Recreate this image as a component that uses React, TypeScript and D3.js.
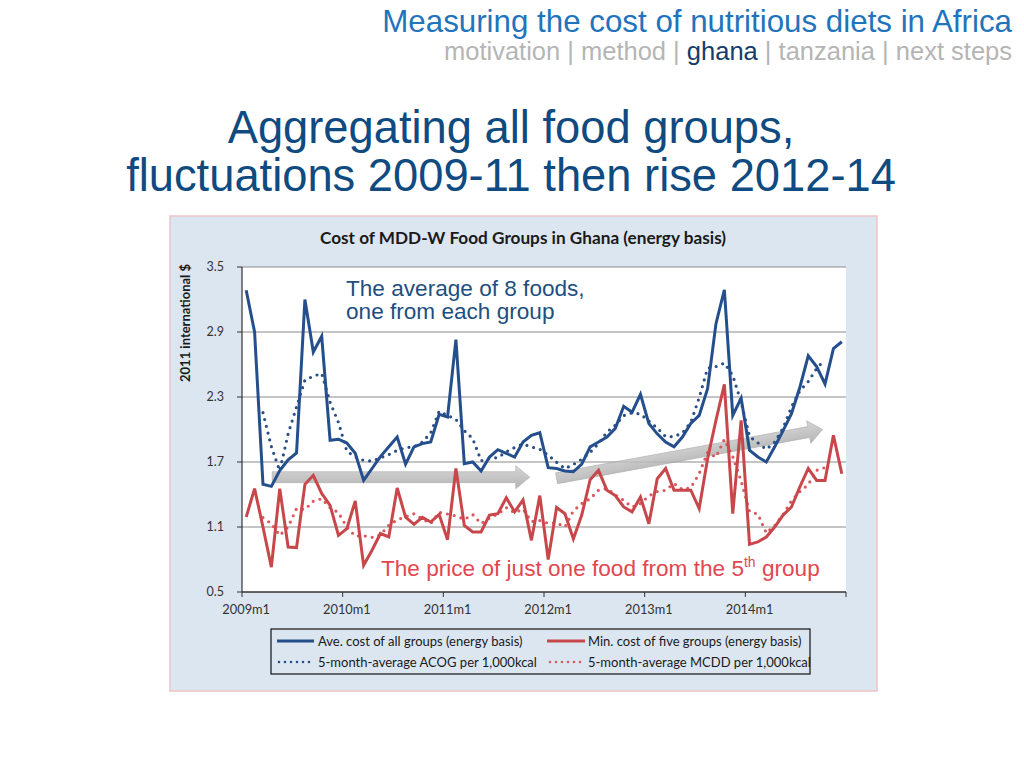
import React from "react";
import * as d3 from "d3";

// ---------- data ----------
const years = [2009, 2010, 2011, 2012, 2013, 2014];
const categories: string[] = years.flatMap((y) => d3.range(1, 13).map((m) => `${y}m${m}`));
const xTickLabels = ["2009m1", "2010m1", "2011m1", "2012m1", "2013m1", "2014m1"];
const yTicks = [0.5, 1.1, 1.7, 2.3, 2.9, 3.5];

// Ave. cost of all groups (energy basis)
const aveCost = [
  3.285, 2.9, 1.494, 1.475, 1.62, 1.72, 1.783, 3.2, 2.715, 2.86, 1.9, 1.91,
  1.875, 1.78, 1.53, 1.64, 1.75, 1.84, 1.93, 1.68, 1.84, 1.87, 1.885, 2.14,
  2.115, 2.83, 1.685, 1.7, 1.617, 1.746, 1.814, 1.78, 1.746, 1.885, 1.946, 1.97,
  1.648, 1.64, 1.617, 1.61, 1.68, 1.84, 1.885, 1.93, 2.01, 2.214, 2.16, 2.325,
  2.055, 1.96, 1.885, 1.84, 1.93, 2.055, 2.13, 2.377, 2.977, 3.29, 2.13, 2.29,
  1.81, 1.746, 1.7, 1.84, 1.99, 2.146, 2.39, 2.68, 2.58, 2.42, 2.746, 2.81,
];
// Min. cost of five groups (energy basis)
const minCost = [
  1.192, 1.454, 1.1, 0.73, 1.454, 0.915, 0.91, 1.494, 1.577, 1.41, 1.3, 1.023,
  1.085, 1.34, 0.746, 0.885, 1.04, 1.008, 1.46, 1.19, 1.125, 1.19, 1.146, 1.217,
  0.983, 1.64, 1.115, 1.055, 1.055, 1.21, 1.223, 1.37, 1.24, 1.35, 0.977, 1.39,
  0.8, 1.28, 1.223, 0.99, 1.21, 1.537, 1.623, 1.44, 1.39, 1.285, 1.24, 1.377,
  1.13, 1.546, 1.64, 1.44, 1.44, 1.44, 1.27, 1.73, 2.085, 2.417, 1.223, 2.085,
  0.94, 0.962, 1.008, 1.1, 1.21, 1.285, 1.47, 1.64, 1.53, 1.53, 1.946, 1.592,
];
// 5-month-average ACOG per 1,000kcal
const acogAvg: (number | null)[] = [
  null, null, 2.155, 1.842, 1.618, 1.96, 2.208, 2.456, 2.492, 2.517, 2.252, 2.065,
  1.799, 1.747, 1.715, 1.708, 1.738, 1.768, 1.808, 1.832, 1.841, 1.883, 1.97, 2.168,
  2.131, 2.094, 1.989, 1.916, 1.712, 1.731, 1.741, 1.794, 1.834, 1.865, 1.839, 1.818,
  1.764, 1.697, 1.639, 1.677, 1.726, 1.789, 1.869, 1.976, 2.04, 2.128, 2.153, 2.143,
  2.077, 2.013, 1.934, 1.934, 1.968, 2.066, 2.294, 2.566, 2.581, 2.613, 2.499, 2.253,
  1.935, 1.877, 1.817, 1.884, 2.013, 2.209, 2.357, 2.443, 2.563, 2.647, null, null,
];
// 5-month-average MCDD per 1,000kcal
const mcddAvg: (number | null)[] = [
  null, null, 1.186, 1.131, 1.022, 1.101, 1.27, 1.261, 1.338, 1.361, 1.279, 1.232,
  1.099, 1.016, 1.019, 1.004, 1.028, 1.117, 1.165, 1.195, 1.222, 1.174, 1.132, 1.235,
  1.22, 1.202, 1.17, 1.215, 1.132, 1.183, 1.22, 1.279, 1.232, 1.265, 1.151, 1.159,
  1.134, 1.137, 1.101, 1.248, 1.317, 1.36, 1.44, 1.455, 1.396, 1.346, 1.284, 1.316,
  1.387, 1.427, 1.439, 1.501, 1.446, 1.464, 1.593, 1.788, 1.745, 1.908, 1.75, 1.525,
  1.244, 1.219, 1.044, 1.113, 1.215, 1.341, 1.427, 1.491, 1.623, 1.648, null, null,
];

// arrows (category index, value)
const flatArrow = { from: [3.1, 1.56], to: [33.8, 1.56] };
const riseArrow = { from: [37.0, 1.55], to: [68.7, 2.0] };

// ---------- styles ----------
const BLUE = "#244f8c";
const RED = "#c8474b";
const BLUE_DOT = "#2a4f86";
const RED_DOT = "#d9595e";
const CHART_FONT = "Lato, 'Open Sans', sans-serif";
const SLIDE_FONT = "'Liberation Sans', Arial, sans-serif";

export default function App() {
  const left = 242;
  const right = 846;
  const top = 267;
  const bottom = 592;

  const x = d3.scaleBand<number>().domain(d3.range(categories.length)).range([left, right]).padding(0);
  const cx = (i: number) => (x(Math.floor(i)) ?? left) + x.bandwidth() * (0.5 + (i - Math.floor(i)));
  const y = d3.scaleLinear().domain([0.5, 3.5]).range([bottom, top]);

  const line = d3
    .line<number | null>()
    .defined((d) => d !== null)
    .x((_, i) => cx(i))
    .y((d) => y(d as number));

  const arrowPath = (a: { from: number[]; to: number[] }) => {
    const x1 = cx(a.from[0]);
    const y1 = y(a.from[1]);
    const x2 = cx(a.to[0]);
    const y2 = y(a.to[1]);
    const len = Math.hypot(x2 - x1, y2 - y1);
    const ang = (Math.atan2(y2 - y1, x2 - x1) * 180) / Math.PI;
    const sh = 5.5;
    const hh = 11.5;
    const hl = 14;
    const d = `M0,${-sh} L${len - hl},${-sh} L${len - hl},${-hh} L${len},0 L${len - hl},${hh} L${len - hl},${sh} L0,${sh} Z`;
    return { d, transform: `translate(${x1},${y1}) rotate(${ang})` };
  };

  const a1 = arrowPath(flatArrow);
  const a2 = arrowPath(riseArrow);

  const tickIdx = xTickLabels.map((l) => categories.indexOf(l));

  return (
    <svg
      width={1024}
      height={768}
      style={{ position: "absolute", left: 0, top: 0, background: "#fff" }}
    >
      <defs>
        <linearGradient id="arrowGrad" x1="0" y1="0" x2="0" y2="1">
          <stop offset="0" stopColor="#cfcfcf" />
          <stop offset="1" stopColor="#a9a9a9" />
        </linearGradient>
      </defs>

      {/* header */}
      <text x={1012} y={32} textAnchor="end" fontFamily={SLIDE_FONT} fontSize={31.3} fill="#1f74bb">
        Measuring the cost of nutritious diets in Africa
      </text>
      <text x={1012} y={60} textAnchor="end" fontFamily={SLIDE_FONT} fontSize={25.5} fill="#b5b5b5">
        <tspan>motivation | method | </tspan>
        <tspan fill="#143d6b">ghana</tspan>
        <tspan> | tanzania | next steps</tspan>
      </text>

      {/* slide title */}
      <text x={511} y={143} textAnchor="middle" fontFamily={SLIDE_FONT} fontSize={45.3} fill="#0f4a80">
        Aggregating all food groups,
      </text>
      <text x={511} y={191} textAnchor="middle" fontFamily={SLIDE_FONT} fontSize={45.3} fill="#0f4a80">
        fluctuations 2009-11 then rise 2012-14
      </text>

      {/* chart box */}
      <rect x={170} y={216} width={707} height={475} fill="#dce6f1" stroke="#efc3c6" strokeWidth={1.5} />
      <text x={523} y={244} textAnchor="middle" fontFamily={CHART_FONT} fontWeight={700} fontSize={17.2} fill="#1a1a1a">
        Cost of MDD-W Food Groups in Ghana (energy basis)
      </text>
      <text
        transform={`translate(190,323) rotate(-90)`}
        textAnchor="middle"
        fontFamily={CHART_FONT}
        fontWeight={700}
        fontSize={13}
        fill="#1a1a1a"
      >
        2011 international $
      </text>

      {/* plot area */}
      <rect x={left} y={top} width={right - left} height={bottom - top} fill="#ffffff" />
      {yTicks.map((t) => (
        <g key={t}>
          {t > 0.5 && <line x1={left} x2={right} y1={y(t)} y2={y(t)} stroke="#8a8a8a" strokeWidth={1} />}
          <line x1={left - 5} x2={left} y1={y(t)} y2={y(t)} stroke="#333" strokeWidth={1} />
          <text x={224} y={y(t)} dy="0.35em" textAnchor="end" fontFamily={CHART_FONT} fontSize={12.5} fill="#333">
            {t.toFixed(1)}
          </text>
        </g>
      ))}
      <line x1={left} x2={left} y1={top} y2={bottom} stroke="#333" strokeWidth={1.2} />
      <line x1={left} x2={right} y1={bottom} y2={bottom} stroke="#333" strokeWidth={1.5} />
      {[...tickIdx, categories.length].map((i) => (
        <line
          key={`t${i}`}
          x1={(x(i) ?? right)}
          x2={(x(i) ?? right)}
          y1={bottom}
          y2={bottom + 5}
          stroke="#333"
          strokeWidth={1}
        />
      ))}
      {xTickLabels.map((l, k) => (
        <text key={l} x={cx(tickIdx[k])} y={614} textAnchor="middle" fontFamily={CHART_FONT} fontSize={12.8} fill="#333">
          {l}
        </text>
      ))}

      {/* arrows */}
      <path d={a1.d} transform={a1.transform} fill="url(#arrowGrad)" stroke="#a0a0a0" strokeWidth={0.6} opacity={0.85} />
      <path d={a2.d} transform={a2.transform} fill="url(#arrowGrad)" stroke="#a0a0a0" strokeWidth={0.6} opacity={0.85} />

      {/* series */}
      <path d={line(acogAvg) ?? ""} fill="none" stroke={BLUE_DOT} strokeWidth={3.2} strokeLinecap="round" strokeDasharray="0 7" />
      <path d={line(mcddAvg) ?? ""} fill="none" stroke={RED_DOT} strokeWidth={3.2} strokeLinecap="round" strokeDasharray="0 7" />
      <path d={line(aveCost) ?? ""} fill="none" stroke={BLUE} strokeWidth={3} strokeLinejoin="miter" />
      <path d={line(minCost) ?? ""} fill="none" stroke={RED} strokeWidth={3} strokeLinejoin="miter" />

      {/* annotations */}
      <text fontFamily={SLIDE_FONT} fontSize={22.6} fill="#1e4f7f">
        <tspan x={346} y={296}>The average of 8 foods,</tspan>
        <tspan x={346} y={319}>one from each group</tspan>
      </text>
      <text x={381} y={576} fontFamily={SLIDE_FONT} fontSize={22.6} fill="#e2474f">
        The price of just one food from the 5
        <tspan fontSize={14} dy={-9}>th</tspan>
        <tspan dy={9}> group</tspan>
      </text>

      {/* legend */}
      <rect x={271} y={629} width={539} height={45} fill="#dce6f1" stroke="#111" strokeWidth={1.2} />
      <line x1={277} x2={314} y1={641} y2={641} stroke={BLUE} strokeWidth={3} />
      <text x={318} y={641} dy="0.35em" fontFamily={CHART_FONT} fontSize={13} fill="#1a1a1a">
        Ave. cost of all groups (energy basis)
      </text>
      <line x1={547} x2={585} y1={641} y2={641} stroke={RED} strokeWidth={3} />
      <text x={588} y={641} dy="0.35em" fontFamily={CHART_FONT} fontSize={13} fill="#1a1a1a">
        Min. cost of five groups (energy basis)
      </text>
      <line x1={279} x2={314} y1={662} y2={662} stroke={BLUE_DOT} strokeWidth={2.6} strokeLinecap="round" strokeDasharray="0 6" />
      <text x={318} y={662} dy="0.35em" fontFamily={CHART_FONT} fontSize={13} fill="#1a1a1a">
        5-month-average ACOG per 1,000kcal
      </text>
      <line x1={550} x2={585} y1={662} y2={662} stroke={RED_DOT} strokeWidth={2.6} strokeLinecap="round" strokeDasharray="0 6" />
      <text x={588} y={662} dy="0.35em" fontFamily={CHART_FONT} fontSize={13} fill="#1a1a1a">
        5-month-average MCDD per 1,000kcal
      </text>
    </svg>
  );
}
